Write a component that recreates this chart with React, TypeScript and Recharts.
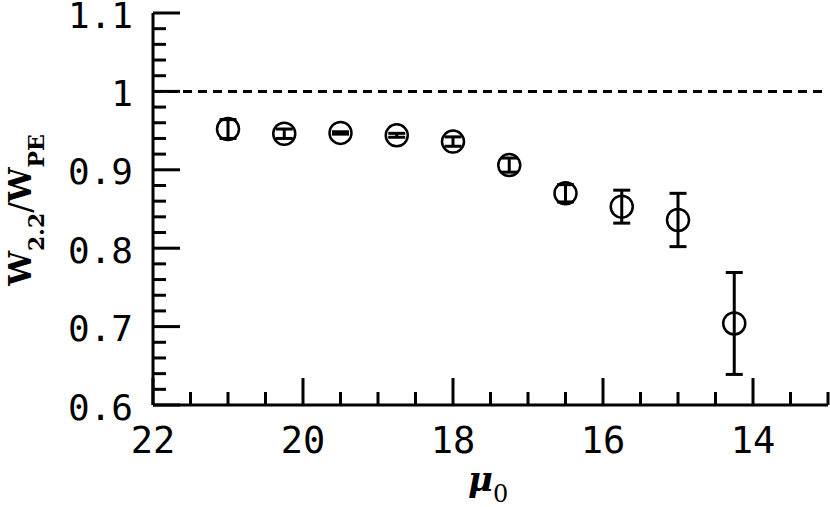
import React from 'react';
import { ScatterChart, Scatter, XAxis, YAxis, ErrorBar, ReferenceLine } from 'recharts';

// data
const muValues = [21, 20.25, 19.5, 18.75, 18, 17.25, 16.5, 15.75, 15, 14.25];
const ratioValues = [0.952, 0.946, 0.947, 0.944, 0.936, 0.906, 0.870, 0.853, 0.836, 0.704];
const ratioErrors = [0.012, 0.006, 0.0015, 0.0025, 0.006, 0.009, 0.011, 0.021, 0.034, 0.065];

// axes
const xMajorTicks = [14, 16, 18, 20, 22];
const xTickLabels = ['14', '16', '18', '20', '22'];
const xAllTicks = [13, 13.5, 14, 14.5, 15, 15.5, 16, 16.5, 17, 17.5, 18, 18.5, 19, 19.5, 20, 20.5, 21, 21.5, 22];
const yMajorTicks = [0.6, 0.7, 0.8, 0.9, 1, 1.1];
const yTickLabels = ['0.6', '0.7', '0.8', '0.9', '1', '1.1'];
const yAllTicks = [
  0.6, 0.62, 0.64, 0.66, 0.68, 0.7, 0.72, 0.74, 0.76, 0.78, 0.8, 0.82, 0.84, 0.86, 0.88,
  0.9, 0.92, 0.94, 0.96, 0.98, 1, 1.02, 1.04, 1.06, 1.08, 1.1,
];

const data = muValues.map((x, i) => ({ x, y: ratioValues[i], err: ratioErrors[i] }));

const MAJOR = 27;
const MINOR = 13;
const TICK_W = 3;
const tickFont = '"DejaVu Sans Mono", monospace';

const majorIndex = (list: number[], v: number) => list.findIndex((m) => Math.abs(m - v) < 1e-6);

const BottomTick = (props: any) => {
  const { x, y, payload } = props;
  const idx = majorIndex(xMajorTicks, payload.value);
  const len = idx >= 0 ? MAJOR : MINOR;
  return (
    <g>
      <line x1={x} x2={x} y1={y} y2={y - len} stroke="#000" strokeWidth={TICK_W} />
      {idx >= 0 && (
        <text x={x} y={y + 48} textAnchor="middle" fontFamily={tickFont} fontSize={37} fill="#000">
          {xTickLabels[idx]}
        </text>
      )}
    </g>
  );
};

const TopTick = (props: any) => {
  const { x, y, payload } = props;
  const idx = majorIndex(xMajorTicks, payload.value);
  const len = idx >= 0 ? MAJOR : MINOR;
  return <line x1={x} x2={x} y1={y} y2={y + len} stroke="#000" strokeWidth={TICK_W} />;
};

const LeftTick = (props: any) => {
  const { x, y, payload } = props;
  const idx = majorIndex(yMajorTicks, payload.value);
  const len = idx >= 0 ? MAJOR : MINOR;
  return (
    <g>
      <line x1={x} x2={x + len} y1={y} y2={y} stroke="#000" strokeWidth={TICK_W} />
      {idx >= 0 && (
        <text x={x - 20} y={y + 14.5} textAnchor="end" fontFamily={tickFont} fontSize={36} fill="#000">
          {yTickLabels[idx]}
        </text>
      )}
    </g>
  );
};

const RightTick = (props: any) => {
  const { x, y, payload } = props;
  const idx = majorIndex(yMajorTicks, payload.value);
  const len = idx >= 0 ? MAJOR : MINOR;
  return <line x1={x} x2={x - len} y1={y} y2={y} stroke="#000" strokeWidth={TICK_W} />;
};

const YLabel = () => (
  <text
    transform="translate(31,210) rotate(-90)"
    textAnchor="middle"
    fontFamily='"DejaVu Serif", serif'
    fontWeight="bold"
    fontSize={31}
    fill="#000"
  >
    W
    <tspan fontSize={22} dy={13}>2.2</tspan>
    <tspan dy={-13} fontWeight="normal" fontSize={31}>/</tspan>
    <tspan>W</tspan>
    <tspan fontSize={22} dy={13}>PE</tspan>
  </text>
);

const XLabel = () => (
  <text x={468} y={491} textAnchor="start" fontFamily='"DejaVu Serif", serif' fontStyle="italic" fontWeight="bold" fontSize={34} fill="#000">
    μ
    <tspan fontStyle="normal" fontWeight="normal" fontSize={24} dy={11}>0</tspan>
  </text>
);

const Circle = (p: any) => (
  <circle cx={p.cx} cy={p.cy} r={11} fill="none" stroke="#000" strokeWidth={2.5} />
);

const axisLine = { stroke: '#000', strokeWidth: 3 };

export default function App() {
  return (
    <div style={{ position: 'absolute', left: 0, top: 0, background: '#fff' }}>
      <ScatterChart width={830} height={507} margin={{ top: 13, right: 2, bottom: 0, left: 0 }}>
        <XAxis
          xAxisId="b"
          dataKey="x"
          type="number"
          domain={[13, 22]}
          reversed
          ticks={xAllTicks}
          interval={0}
          tickLine={false}
          tickSize={0}
          tickMargin={0}
          height={102}
          axisLine={axisLine}
          tick={BottomTick}
          label={<XLabel />}
        />
        <XAxis
          xAxisId="t"
          orientation="top"
          dataKey="x"
          type="number"
          domain={[13, 22]}
          reversed
          ticks={xAllTicks}
          interval={0}
          tickLine={false}
          tickSize={0}
          tickMargin={0}
          height={0}
          axisLine={axisLine}
          tick={TopTick}
        />
        <YAxis
          yAxisId="l"
          dataKey="y"
          type="number"
          domain={[0.6, 1.1]}
          ticks={yAllTicks}
          interval={0}
          tickLine={false}
          tickSize={0}
          tickMargin={0}
          width={153}
          axisLine={axisLine}
          tick={LeftTick}
          label={<YLabel />}
        />
        <YAxis
          yAxisId="r"
          orientation="right"
          dataKey="y"
          type="number"
          domain={[0.6, 1.1]}
          ticks={yAllTicks}
          interval={0}
          tickLine={false}
          tickSize={0}
          tickMargin={0}
          width={0}
          axisLine={axisLine}
          tick={RightTick}
        />
        <ReferenceLine
          xAxisId="b"
          yAxisId="l"
          y={1}
          stroke="#000"
          strokeWidth={3}
          strokeDasharray="9 6"
        />
        <Scatter xAxisId="b" yAxisId="l" data={data} shape={Circle} isAnimationActive={false}>
          <ErrorBar dataKey="err" direction="y" width={8.5} stroke="#000" strokeWidth={3} isAnimationActive={false} />
        </Scatter>
      </ScatterChart>
    </div>
  );
}
